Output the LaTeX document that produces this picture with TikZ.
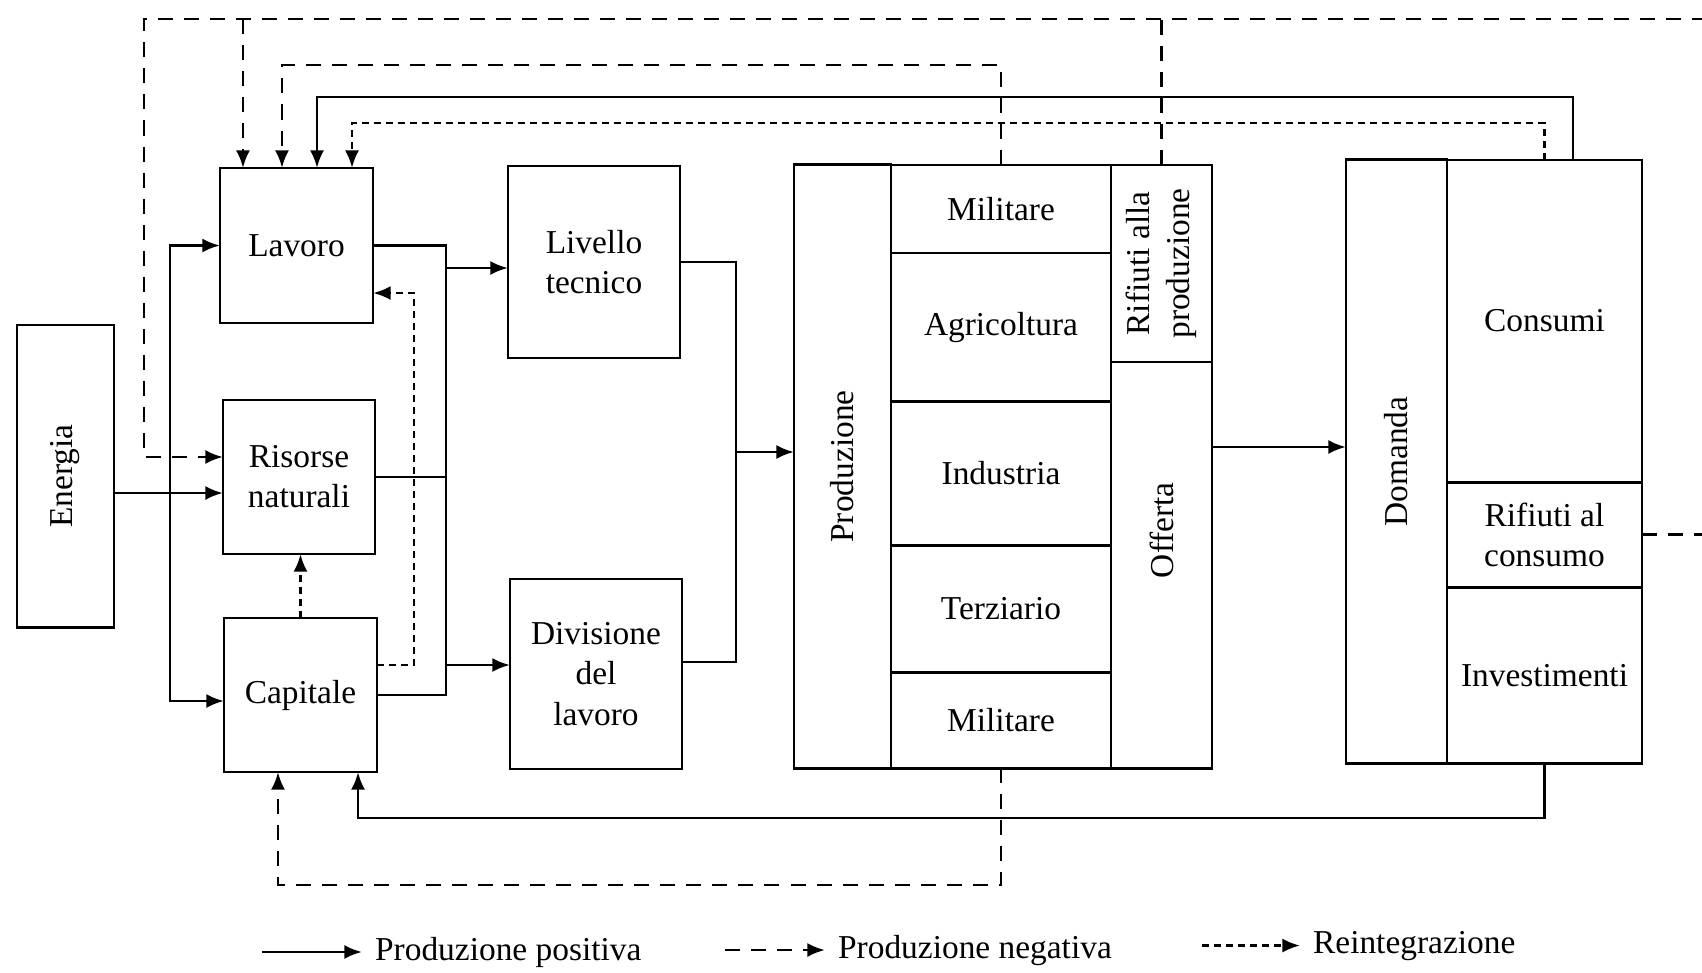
\documentclass[tikz,border=0pt]{standalone}
\usepackage{fontspec}
\setmainfont{Liberation Serif}
\usetikzlibrary{arrows.meta,positioning}

\begin{document}
\begin{tikzpicture}[>={Latex[length=5pt,width=4pt]}, x=0.01cm, y=-0.01cm,
    line width=0.8pt, font=\fontsize{9.5}{11.4}\selectfont]
    \tikzstyle{box}=[draw,align=center,inner sep=1pt,outer sep=0pt]
    \tikzstyle{neg}=[dash pattern=on 0.15cm off 0.11cm]
    \tikzstyle{reint}=[dash pattern=on 0.07cm off 0.05cm]
    \useasboundingbox (0,0) rectangle (1702,972);
    \clip (0,0) rectangle (1702,972);

    % fattori
    \node[box, minimum width=0.97cm, minimum height=3.02cm] (energia) at (65.5,476) {\rotatebox{90}{Energia}};
    \node[box, minimum width=1.53cm, minimum height=1.55cm] (lavoro) at (296.5,245.5) {Lavoro};
    \node[box, minimum width=1.52cm, minimum height=1.54cm] (risorse) at (299,477) {Risorse\\naturali};
    \node[box, minimum width=1.53cm, minimum height=1.54cm] (capitale) at (300.5,695) {Capitale};
    \node[box, minimum width=1.72cm, minimum height=1.92cm] (livello) at (594,262) {Livello\\tecnico};
    \node[box, minimum width=1.72cm, minimum height=1.90cm] (divisione) at (596,674) {Divisione\\del\\lavoro};

    % produzione
    \node[box, minimum width=0.97cm, minimum height=6.03cm] (produzione) at (842.5,466.5) {\rotatebox{90}{Produzione}};
    \node[box, minimum width=2.20cm, minimum height=0.88cm] (militare1) at (1001,209) {Militare};
    \node[box, minimum width=2.20cm, minimum height=1.48cm, below=0pt of militare1] (agricoltura) {Agricoltura};
    \node[box, minimum width=2.20cm, minimum height=1.44cm, below=0pt of agricoltura] (industria) {Industria};
    \node[box, minimum width=2.20cm, minimum height=1.27cm, below=0pt of industria] (terziario) {Terziario};
    \node[box, minimum width=2.20cm, minimum height=0.96cm, below=0pt of terziario] (militare2) {Militare};
    \node[box, minimum width=1.01cm, minimum height=1.97cm] (rifprod) at (1161.5,263.5)
        {\rotatebox{90}{\begin{tabular}{@{}c@{}}Rifiuti alla\\produzione\end{tabular}}};
    \node[box, minimum width=1.01cm, minimum height=4.06cm, below=0pt of rifprod] (offerta) {};
    \node[rotate=90] (offertatxt) at ([yshift=0.35cm]offerta.center) {Offerta};

    % domanda
    \node[box, minimum width=1.01cm, minimum height=6.03cm] (domanda) at (1396.5,461.5) {\rotatebox{90}{Domanda}};
    \node[box, minimum width=1.95cm, minimum height=3.22cm] (consumi) at (1544.5,321) {Consumi};
    \node[box, minimum width=1.95cm, minimum height=1.05cm, below=0pt of consumi] (rifcons) {Rifiuti al\\consumo};
    \node[box, minimum width=1.95cm, minimum height=1.76cm, below=0pt of rifcons] (investimenti) {Investimenti};

    % binari
    \coordinate (ebus) at (170,0);
    \coordinate (lbus) at (446,0);
    \coordinate (pbus) at (736,0);
    \coordinate (rbus) at (414,0);
    \coordinate (topneg) at (144,19);
    \coordinate (rail2) at (0,65);
    \coordinate (rail3) at (0,97);
    \coordinate (rail4) at (0,123);
    \coordinate (rail5) at (0,818);
    \coordinate (rail6) at (0,885);

    \draw[->] ([yshift=-0.16cm]risorse.west -| energia.east) -- ([yshift=-0.16cm]risorse.west);
    \draw[->] ([yshift=-0.16cm]risorse.west -| ebus) |- (lavoro.west);
    \draw[->] ([yshift=-0.16cm]risorse.west -| ebus) |- ([yshift=-0.06cm]capitale.west);

    \draw (lavoro.east) -| (lbus |- capitale.east) -- (capitale.east);
    \draw (risorse.east) -- (risorse.east -| lbus);
    \draw[->] ([yshift=-0.06cm]livello.west -| lbus) -- ([yshift=-0.06cm]livello.west);
    \draw[->] ([yshift=0.09cm]divisione.west -| lbus) -- ([yshift=0.09cm]divisione.west);
    \draw (livello.east) -| ([yshift=0.12cm]divisione.east -| pbus) -- ([yshift=0.12cm]divisione.east);
    \draw[->] ([yshift=0.145cm]produzione.west -| pbus) -- ([yshift=0.145cm]produzione.west);
    \draw[->] ([yshift=0.145cm]domanda.west -| offerta.east) -- ([yshift=0.145cm]domanda.west);

    % ritorni in alto
    \draw[neg,->] (rifcons.east) -- ++(1cm,0) |- (topneg) |- ([yshift=0.2cm]risorse.west);
    \draw[neg] (rifprod.north) -- (rifprod.north |- topneg);
    \draw[neg,->] ([xshift=-0.535cm]lavoro.north |- topneg) -- ([xshift=-0.535cm]lavoro.north);
    \draw[neg,->] (militare1.north) -- (militare1.north |- rail2) -| ([xshift=-0.145cm]lavoro.north);
    \draw[->] ([xshift=0.285cm]consumi.north) -- ([xshift=0.285cm]consumi.north |- rail3) -| ([xshift=0.205cm]lavoro.north);
    \draw[reint,->] (consumi.north) -- (consumi.north |- rail4) -| ([xshift=0.555cm]lavoro.north);
    \draw[reint,->] ([yshift=0.3cm]capitale.east) -| ([yshift=-0.475cm]lavoro.east -| rbus) -- ([yshift=-0.475cm]lavoro.east);
    \draw[reint,->] (capitale.north) -- (capitale.north |- risorse.south);

    % ritorni in basso
    \draw[->] (investimenti.south) -- (investimenti.south |- rail5) -| ([xshift=0.575cm]capitale.south);
    \draw[neg,->] (militare2.south) -- (militare2.south |- rail6) -| ([xshift=-0.225cm]capitale.south);

    % legenda
    \node[anchor=base west] (legpos) at (362,960) {Produzione positiva};
    \node[anchor=base west] (legneg) at (825,958) {Produzione negativa};
    \node[anchor=base west] (legrei) at (1300,953) {Reintegrazione};
    \draw[->] ([xshift=-1cm]legpos.west) -- (legpos.west);
    \draw[neg,->] ([xshift=-1cm]legneg.west) -- (legneg.west);
    \draw[reint,->] ([xshift=-0.98cm]legrei.west) -- (legrei.west);
\end{tikzpicture}
\end{document}
